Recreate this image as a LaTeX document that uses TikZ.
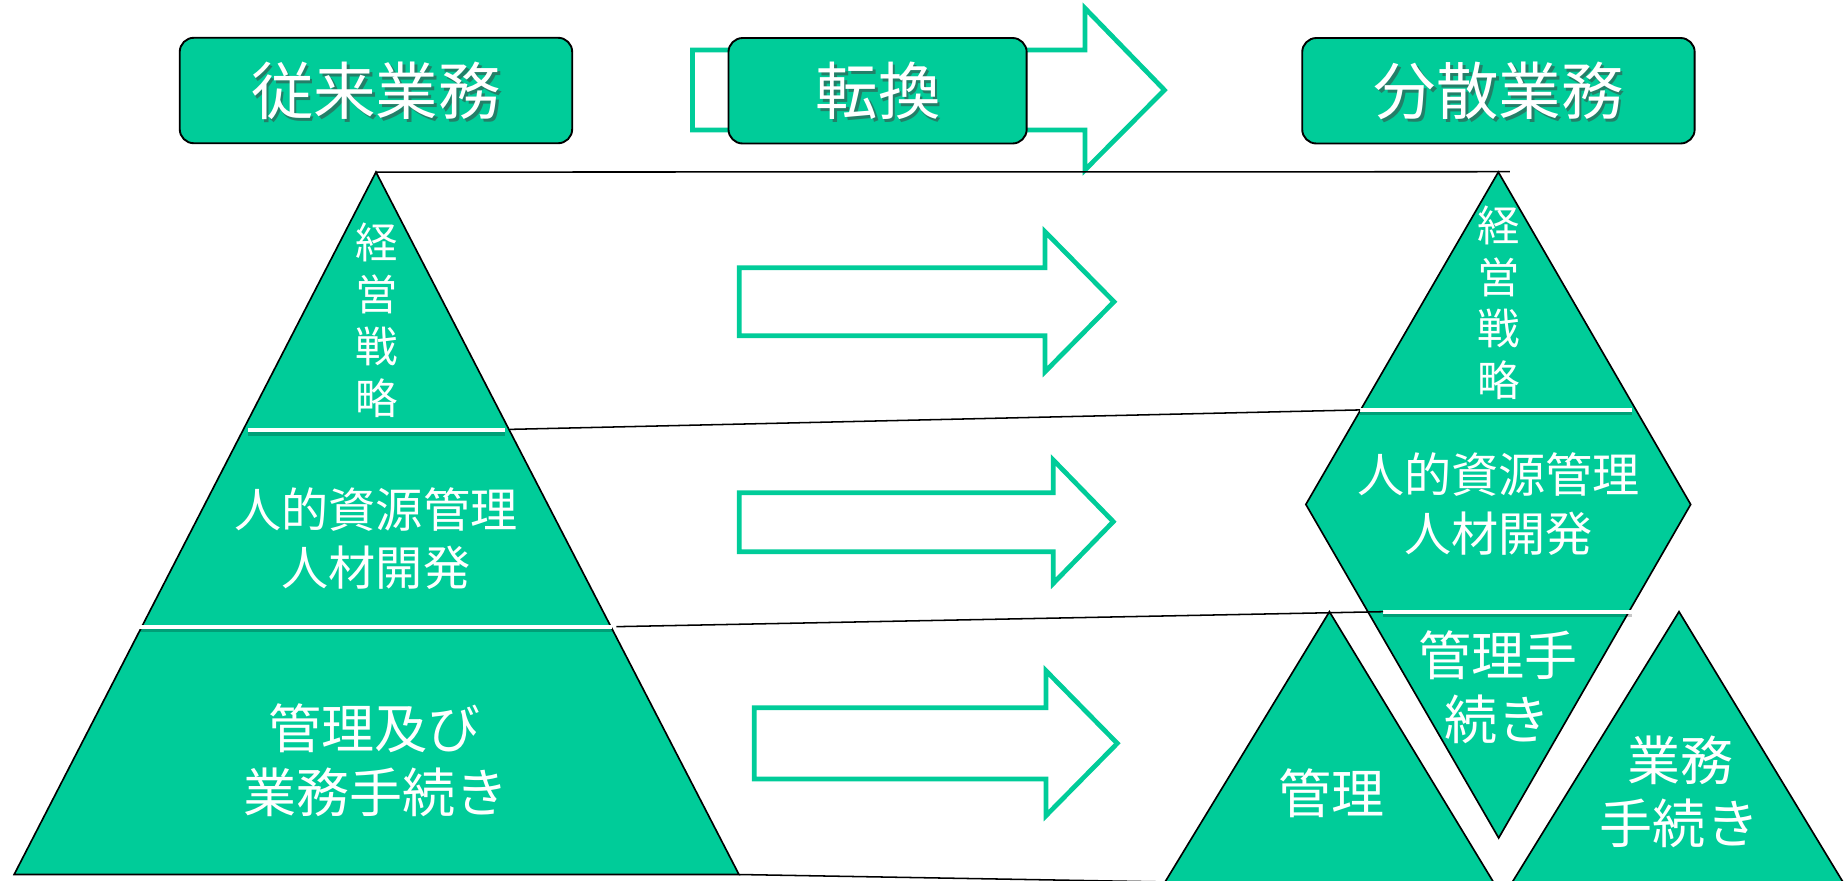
\documentclass[tikz,border=0pt]{standalone}
\usepackage{fontspec}
\setmainfont{Noto Sans CJK JP}
\definecolor{grn}{RGB}{0,204,153}
\tikzset{
  hbox/.style={draw=black, line width=1.6pt, fill=grn, rounded corners=12pt, minimum width=333pt, minimum height=89.5pt, inner sep=0pt},
  bigarrow/.style={draw=grn, line width=4pt, fill=white, line join=miter},
  tri/.style={draw=black, line width=1.4pt, fill=grn, line join=miter},
  sepline/.style={draw=white, line width=3.5pt},
  sepshadow/.style={draw=black, opacity=0.22, line width=3.5pt},
  link/.style={draw=black, line width=1.3pt},
  jt/.style={text=white, inner sep=0pt, anchor=base, font=\fontsize{#1}{#1}\selectfont},
  jshadow/.style={text=black!75, opacity=0.55, inner sep=0pt, anchor=base, font=\fontsize{#1}{#1}\selectfont},
}
\begin{document}
\begin{tikzpicture}[x=1pt,y=-1pt]
\useasboundingbox (0,0) rectangle (1568,747.5);
\fill[white] (0,0) rectangle (1568,747.5);
\clip (0,0) rectangle (1568,747.5);

% ---- header arrow behind 転換
\draw[bigarrow] (587.5,42.4) -- (920.6,42.4) -- (920.6,7) -- (988,76.4) -- (920.6,144.2) -- (920.6,110.3) -- (587.5,110.3) -- cycle;

% ---- header boxes
\node[hbox] (h1) at (319,76.8) {};
\node[hbox, minimum width=253pt] (h2) at (744.6,77) {};
\node[hbox] (h3) at (1271.4,77) {};
\node[jshadow=53] (h1s) at (321.5,99.6) {従来業務};
\node[jt=53] (h1t) at (319,97.1) {従来業務};
\node[jshadow=53] (h2s) at (747.5,99.6) {転換};
\node[jt=53] (h2t) at (745,97.1) {転換};
\node[jshadow=53] (h3s) at (1274,99.6) {分散業務};
\node[jt=53] (h3t) at (1271.5,97.1) {分散業務};

% ---- middle arrows
\draw[bigarrow] (627.3,227.1) -- (886.7,227.1) -- (886.7,196.6) -- (945.2,256) -- (886.7,315.4) -- (886.7,284.8) -- (627.3,284.8) -- cycle;
\draw[bigarrow] (627.3,418) -- (893.7,418) -- (893.7,390.3) -- (944.6,442.6) -- (893.7,495) -- (893.7,468.1) -- (627.3,468.1) -- cycle;
\draw[bigarrow] (640,600.5) -- (887.5,600.5) -- (887.5,569.1) -- (948,630.7) -- (887.5,692.1) -- (887.5,661) -- (640,661) -- cycle;

% ---- left pyramid
\coordinate (LA) at (319,146);
\coordinate (LBL) at (12,742);
\coordinate (LBR) at (627,742);
\draw[tri] (LA) -- (LBR) -- (LBL) -- cycle;
\draw[sepshadow] (210.8,368) -- (428.5,368);
\draw[sepline] (210.8,365) -- (428.5,365);
\draw[sepshadow] (118.2,534.7) -- (519.5,534.7);
\draw[sepline] (118.2,531.7) -- (519.5,531.7);

% ---- right diamond
\coordinate (RT) at (1271.3,146);
\coordinate (RR) at (1434.5,428);
\coordinate (RB) at (1271.6,711);
\coordinate (RL) at (1108,428);
\draw[tri] (RT) -- (RR) -- (RB) -- (RL) -- cycle;
\draw[sepshadow] (1154,350.5) -- (1384.5,350.5);
\draw[sepline] (1154,347.5) -- (1384.5,347.5);
\draw[sepshadow] (1173.6,522) -- (1384.5,522);
\draw[sepline] (1173.6,519) -- (1384.5,519);

% ---- lower triangles
\draw[tri] (1128,519) -- (1268.1,750) -- (987.5,750) -- cycle;
\draw[tri] (1424.6,519) -- (1564.7,750) -- (1282.2,750) -- cycle;

% ---- connecting lines
\coordinate (k1a) at (1281,145.7);
\coordinate (k2a) at (432.9,364.3);
\coordinate (k2b) at (1154,347.8);
\coordinate (k3a) at (523,531.7);
\coordinate (k3b) at (1173.6,519);
\coordinate (k4b) at (989,748.3);
\draw[link] (LA) -- (k1a);
\draw[link] (k2a) -- (k2b);
\draw[link] (k3a) -- (k3b);
\draw[link] (LBR) -- (k4b);

% ---- texts left pyramid
\node[jt=36] (lv1) at (320,219.7) {経};
\node[jt=36] (lv2) at (320,263.7) {営};
\node[jt=36] (lv3) at (320,307.7) {戦};
\node[jt=36] (lv4) at (320,351.7) {略};
\node[jt=40] (lm1) at (319,447.2) {人的資源管理};
\node[jt=40] (lm2) at (319,496.7) {人材開発};
\node[jt=45] (lb1) at (318,635.1) {管理及び};
\node[jt=45] (lb2) at (319,689.6) {業務手続き};

% ---- texts right
\node[jt=36] (rv1) at (1272,204.7) {経};
\node[jt=36] (rv2) at (1272,249.2) {営};
\node[jt=36] (rv3) at (1272,292.2) {戦};
\node[jt=36] (rv4) at (1272,336.7) {略};
\node[jt=40] (rm1) at (1271.6,417.5) {人的資源管理};
\node[jt=40] (rm2) at (1271.3,467.7) {人材開発};
\node[jt=45] (rb1) at (1271.4,573.1) {管理手};
\node[jt=45] (rb2) at (1270.5,627.1) {続き};
\node[jt=45] (rc1) at (1129.7,690.1) {管理};
\node[jt=45] (rd1) at (1426,662.1) {業務};
\node[jt=45] (rd2) at (1425,716.1) {手続き};
\end{tikzpicture}
\end{document}
